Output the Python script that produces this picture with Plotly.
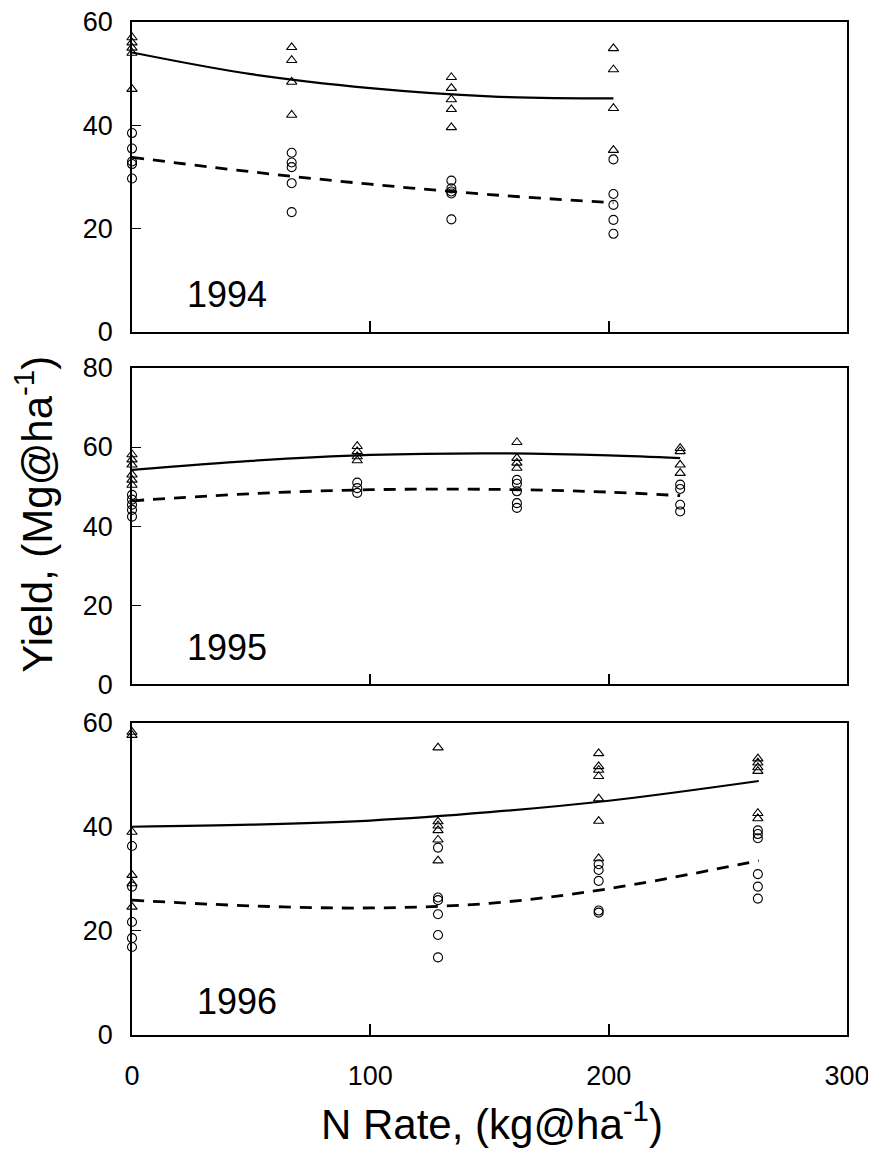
import plotly.graph_objects as go

# ---------------- data ----------------
years = ["1994", "1995", "1996"]

rates_1994 = [0, 67, 134, 202]
tri_1994 = [[57.0, 56.0, 55.0, 54.0, 47.0],
            [55.1, 52.6, 48.4, 42.0],
            [49.3, 47.2, 45.0, 43.1, 39.6],
            [54.9, 50.8, 43.3, 35.2]]
circ_1994 = [[38.5, 35.5, 33.0, 32.5, 29.7],
             [34.7, 32.8, 31.9, 28.8, 23.2],
             [29.3, 27.8, 27.2, 26.8, 21.8],
             [33.4, 26.7, 24.6, 21.7, 19.0]]
fit_x_1994 = [0, 50, 100, 150, 202]
solid_1994 = [54.1, 49.9, 47.2, 45.6, 45.2]
dashed_1994 = [33.8, 31.0, 28.6, 26.6, 25.0]

rates_1995 = [0, 94.5, 161.5, 230]
tri_1995 = [[58.1, 56.8, 55.5, 53.0, 51.7, 50.4],
            [60.2, 58.9, 57.6, 56.6],
            [61.2, 57.2, 56.0, 54.7],
            [59.7, 58.9, 55.5, 53.4]]
circ_1995 = [[47.9, 46.7, 45.4, 44.1, 42.4],
             [51.0, 49.6, 48.4],
             [51.7, 50.7, 48.8, 45.8, 44.6],
             [50.5, 49.4, 45.4, 43.7]]
fit_x_1995 = [0, 50, 100, 150, 200, 230]
solid_1995 = [54.2, 56.5, 58.0, 58.4, 57.9, 57.2]
dashed_1995 = [46.4, 48.2, 49.2, 49.3, 48.6, 47.7]

rates_1996 = [0, 128.4, 195.8, 262.6]
tri_1996 = [[58.2, 57.6, 39.0, 30.7, 29.1, 24.6],
            [55.2, 41.0, 40.2, 39.3, 37.5, 33.5],
            [54.1, 51.6, 50.9, 49.7, 45.4, 41.1, 33.9],
            [53.1, 52.3, 51.4, 50.7, 42.6, 41.6]]
circ_1996 = [[36.3, 28.5, 21.7, 18.6, 16.9],
             [36.0, 26.4, 25.9, 23.2, 19.2, 14.9],
             [32.8, 31.7, 29.6, 23.9, 23.5],
             [39.3, 38.6, 37.8, 30.9, 28.5, 26.2]]
fit_x_1996 = [0, 50, 100, 150, 200, 263]
solid_1996 = [40.0, 40.4, 41.2, 42.8, 45.0, 48.8]
dashed_1996 = [25.9, 24.8, 24.4, 25.3, 28.1, 33.5]

y_ticks_a = [0, 20, 40, 60]
y_ticks_b = [0, 20, 40, 60, 80]
x_ticks = [0, 100, 200, 300]

# ---------------- figure ----------------
FONT = "Liberation Sans, Arial, sans-serif"
panels = [
    (rates_1994, tri_1994, circ_1994, fit_x_1994, solid_1994, dashed_1994, [0, 60], y_ticks_a, (0.7200, 0.9879), (40, 7.2)),
    (rates_1995, tri_1995, circ_1995, fit_x_1995, solid_1995, dashed_1995, [0, 80], y_ticks_b, (0.4155, 0.6889), (40, 9.4)),
    (rates_1996, tri_1996, circ_1996, fit_x_1996, solid_1996, dashed_1996, [0, 60], y_ticks_a, (0.1124, 0.3823), (44, 6.5)),
]


def flatten(rates, groups):
    xs, ys = [], []
    for r, g in zip(rates, groups):
        for v in g:
            xs.append(r)
            ys.append(v)
    return xs, ys


fig = go.Figure()
annotations = []
for i, (rates, tri, circ, fx, sol, dsh, yr, yt, dom, lab) in enumerate(panels):
    k = "" if i == 0 else str(i + 1)
    xa, ya = "x" + k, "y" + k
    tx, ty = flatten(rates, tri)
    cx, cy = flatten(rates, circ)
    fig.add_trace(go.Scatter(x=tx, y=ty, mode="markers", xaxis=xa, yaxis=ya,
                             marker=dict(symbol="triangle-up-open", size=9, color="black",
                                         line=dict(width=1.1, color="black")),
                             showlegend=False, cliponaxis=False))
    fig.add_trace(go.Scatter(x=cx, y=cy, mode="markers", xaxis=xa, yaxis=ya,
                             marker=dict(symbol="circle-open", size=9, color="black",
                                         line=dict(width=1.1, color="black")),
                             showlegend=False, cliponaxis=False))
    fig.add_trace(go.Scatter(x=fx, y=sol, mode="lines", xaxis=xa, yaxis=ya,
                             line=dict(color="black", width=2.2, shape="spline"),
                             showlegend=False))
    fig.add_trace(go.Scatter(x=fx, y=dsh, mode="lines", xaxis=xa, yaxis=ya,
                             line=dict(color="black", width=2.8, shape="spline", dash="12px,9px"),
                             showlegend=False))
    axis_common = dict(showline=True, linecolor="black", linewidth=1.5, mirror=True,
                       ticks="inside", tickcolor="black", showgrid=False, zeroline=False,
                       automargin=False, ticklabeloverflow="allow",
                       tickfont=dict(family=FONT, size=27, color="black"))
    fig.update_layout(**{
        ("xaxis" + k): dict(axis_common, domain=[0.14286, 0.96659], range=[0, 300],
                            tickvals=x_ticks, ticklen=11, tickwidth=1.5,
                            showticklabels=(i == 2), ticklabelstandoff=16,
                            anchor=ya),
        ("yaxis" + k): dict(axis_common, domain=list(dom), range=yr, tickvals=yt,
                            ticklen=9, tickwidth=1.2, ticklabelstandoff=12,
                            anchor=xa),
    })
    annotations.append(dict(x=lab[0], y=lab[1], xref=xa, yref=ya, text=years[i],
                            showarrow=False, font=dict(family=FONT, size=36, color="black"),
                            xanchor="center", yanchor="middle"))

annotations.append(dict(x=0.030, y=0.562, xref="paper", yref="paper",
                        text="Yield, (Mg@ha<sup>-1</sup>)", textangle=-90, showarrow=False,
                        font=dict(family=FONT, size=42, color="black"),
                        xanchor="center", yanchor="middle"))
annotations.append(dict(x=0.558, y=0.038, xref="paper", yref="paper",
                        text="N Rate, (kg@ha<sup>-1</sup>)", showarrow=False,
                        font=dict(family=FONT, size=42, color="black"),
                        xanchor="center", yanchor="middle"))

fig.update_layout(width=868, height=1157, margin=dict(l=0, r=0, t=0, b=0),
                  plot_bgcolor="white", paper_bgcolor="white",
                  annotations=annotations, showlegend=False)

fig.write_html("out.html")
